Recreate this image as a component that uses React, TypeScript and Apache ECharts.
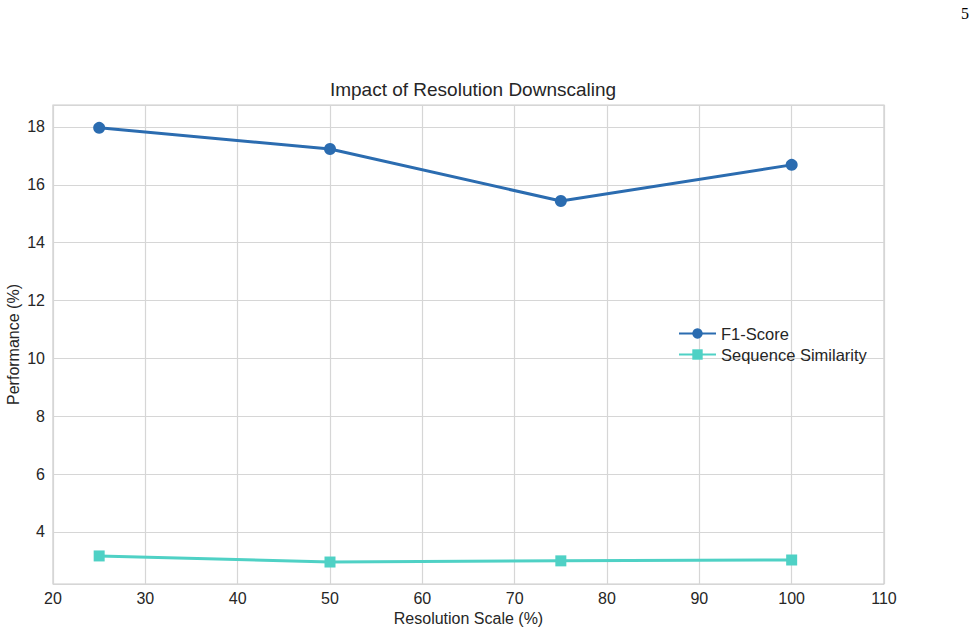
import React, { useEffect, useRef } from "react";
import * as echarts from "echarts";

const resolutionScale = [25, 50, 75, 100];
const f1Score = [17.97, 17.24, 15.44, 16.69];
const sequenceSimilarity = [3.17, 2.96, 3.0, 3.03];
const seriesNames = ["F1-Score", "Sequence Similarity"];

const FONT = "'Liberation Sans', Arial, Helvetica, sans-serif";

export default function App() {
  const ref = useRef<HTMLDivElement>(null);
  useEffect(() => {
    if (!ref.current) return;
    const chart = echarts.init(ref.current, undefined, { renderer: "svg" });
    chart.setOption({
      animation: false,
      backgroundColor: "#ffffff",
      textStyle: { fontFamily: FONT },
      title: {
        text: "Impact of Resolution Downscaling",
        left: 468,
        textAlign: "center",
        top: 75,
        textStyle: { fontFamily: FONT, fontSize: 19, fontWeight: "normal", color: "#262626" },
      },
      graphic: [
        {
          type: "text",
          left: 961,
          top: 5,
          style: { text: "5", font: "16px 'Liberation Serif', 'DejaVu Serif', serif", fill: "#000" },
        },
      ],
      legend: {
        orient: "vertical",
        left: 673,
        top: 320,
        itemWidth: 37,
        itemHeight: 13,
        itemGap: 4,
        textStyle: { fontFamily: FONT, fontSize: 16.5, color: "#262626" },
        data: seriesNames,
      },
      grid: {
        left: 53,
        right: 92,
        top: 105,
        bottom: 49,
        show: true,
        borderColor: "#cccccc",
        borderWidth: 1.2,
        containLabel: false,
        outerBoundsMode: "none",
      },
      xAxis: {
        type: "value",
        min: 20,
        max: 110,
        interval: 10,
        name: "Resolution Scale (%)",
        nameLocation: "middle",
        nameGap: 23,
        nameTextStyle: { fontFamily: FONT, fontSize: 16, color: "#262626" },
        axisLine: { show: false },
        axisTick: { show: false },
        axisLabel: { fontFamily: FONT, fontSize: 16, color: "#262626", margin: 6 },
        splitLine: { show: true, lineStyle: { color: "#d6d6d6", width: 1.2 } },
      },
      yAxis: {
        type: "value",
        min: 2.2,
        max: 18.76,
        splitNumber: 8,
        name: "Performance (%)",
        nameLocation: "middle",
        nameGap: 32,
        nameMoveOverlap: false,
        nameTextStyle: { fontFamily: FONT, fontSize: 16, color: "#262626" },
        axisLine: { show: false },
        axisTick: { show: false },
        axisLabel: {
          fontFamily: FONT,
          fontSize: 16,
          color: "#262626",
          margin: 8,
          formatter: (v: number) => (Math.abs(v - Math.round(v)) < 1e-6 ? String(Math.round(v)) : ""),
        },
        splitLine: { show: true, lineStyle: { color: "#d6d6d6", width: 1.2 } },
      },
      series: [
        {
          name: seriesNames[0],
          type: "line",
          data: resolutionScale.map((x, i) => [x, f1Score[i]]),
          symbol: "circle",
          symbolSize: 12,
          lineStyle: { width: 3, color: "#2b6cb0" },
          itemStyle: { color: "#2b6cb0" },
        },
        {
          name: seriesNames[1],
          type: "line",
          data: resolutionScale.map((x, i) => [x, sequenceSimilarity[i]]),
          symbol: "rect",
          symbolSize: 11,
          lineStyle: { width: 3, color: "#4fd1c5" },
          itemStyle: { color: "#4fd1c5" },
        },
      ],
    });
    return () => chart.dispose();
  }, []);
  return (
    <div
      ref={ref}
      style={{ position: "fixed", left: 0, top: 0, width: 976, height: 633, background: "#fff" }}
    />
  );
}
